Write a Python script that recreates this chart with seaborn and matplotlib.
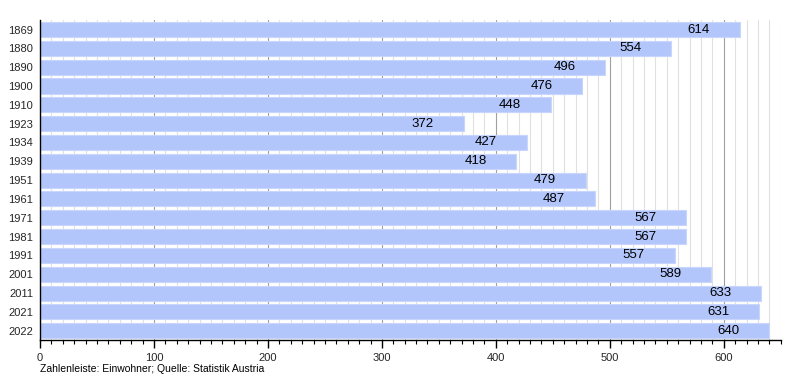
import numpy as np
import pandas as pd
import seaborn as sns
import matplotlib.pyplot as plt
from matplotlib.ticker import MultipleLocator

# Einwohnerentwicklung (Statistik Austria)
YEARS = ["1869", "1880", "1890", "1900", "1910", "1923", "1934", "1939", "1951",
         "1961", "1971", "1981", "1991", "2001", "2011", "2021", "2022"]
POPULATION = [614, 554, 496, 476, 448, 372, 427, 418, 479,
              487, 567, 567, 557, 589, 633, 631, 640]

BAR_COLOR = "#b3c6fb"


def main():
    df = pd.DataFrame({"Jahr": YEARS, "Einwohner": POPULATION})

    sns.set_theme(style="white")
    plt.rcParams["font.family"] = ["Liberation Sans", "DejaVu Sans"]

    fig = plt.figure(figsize=(8, 3.8), dpi=100)
    ax = fig.add_axes([0.05, 0.105, 0.926, 0.842])

    sns.barplot(
        data=df,
        x="Einwohner",
        y="Jahr",
        order=YEARS,
        orient="h",
        color=BAR_COLOR,
        saturation=1,
        width=0.8,
        edgecolor="#c8d6fc",
        linewidth=0.8,
        ax=ax,
        zorder=3,
    )

    for i, v in enumerate(POPULATION):
        ax.annotate(
            str(v),
            xy=(v, i),
            xytext=(-29.5, 0),
            textcoords="offset points",
            ha="center",
            va="center",
            fontsize=9.5,
            color="black",
            zorder=4,
        )

    ax.set_xlim(0, 650)
    ax.set_ylim(len(YEARS) - 0.5, -0.5)
    ax.xaxis.set_major_locator(MultipleLocator(100))
    ax.xaxis.set_minor_locator(MultipleLocator(10))

    ax.grid(axis="x", which="major", color="#a0a0a0", linewidth=0.8, zorder=0)
    ax.grid(axis="x", which="minor", color="#e0e0e0", linewidth=0.8, zorder=0)
    ax.set_axisbelow(True)

    for side in ["top", "right"]:
        ax.spines[side].set_visible(False)
    for side in ["left", "bottom"]:
        ax.spines[side].set_color("black")
        ax.spines[side].set_linewidth(1)
        ax.spines[side].set_zorder(6)

    ax.tick_params(axis="x", which="major", direction="out", length=6, width=1,
                   color="black", labelsize=8, bottom=True, pad=3)
    ax.tick_params(axis="x", which="minor", direction="out", length=3, width=0.8,
                   color="black", bottom=True)
    ax.tick_params(axis="y", which="both", length=0, labelsize=8, pad=5)

    ax.set_xlabel("")
    ax.set_ylabel("")

    fig.text(0.05, 0.015, "Zahlenleiste: Einwohner; Quelle: Statistik Austria",
             ha="left", va="bottom", fontsize=7.5, color="black")

    fig.savefig("out.png", dpi=100)
    plt.close(fig)


if __name__ == "__main__":
    main()
